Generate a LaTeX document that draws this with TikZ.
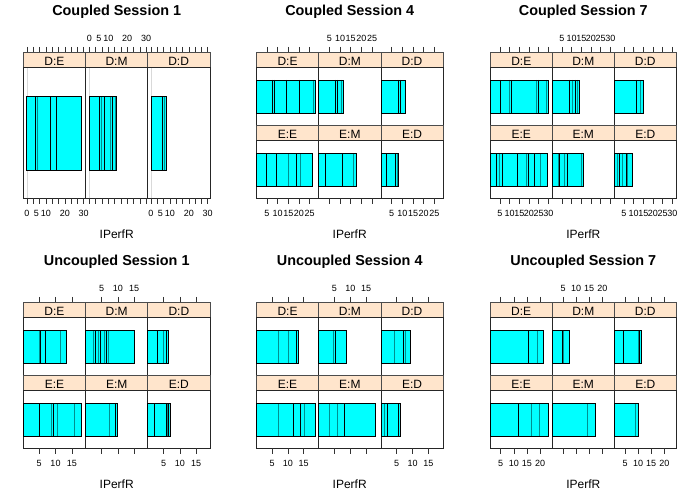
\documentclass[tikz,border=0pt]{standalone}
\usepackage{fontspec}
\setmainfont{Liberation Sans}
\definecolor{barc}{HTML}{00FFFF}
\definecolor{stripc}{HTML}{FFE5CC}
\definecolor{shadc}{HTML}{008F8F}
\tikzset{
  frm/.style={draw=black!85, line width=0.75pt},
  stripst/.style={fill=stripc, draw=black!70, line width=0.8pt},
  striplab/.style={font=\fontsize{12}{12}\selectfont, inner sep=0pt},
  ticklab/.style={font=\fontsize{9}{9}\selectfont, inner sep=0pt},
  ttl/.style={font=\bfseries\fontsize{14.4}{14.4}\selectfont, inner sep=0pt},
  axlab/.style={font=\fontsize{12}{12}\selectfont, inner sep=0pt},
  bk/.style={draw=black, line width=0.7pt},
  tl/.style={draw=shadc, line width=0.9pt},
  tk/.style={draw=black!80, line width=0.6pt},
  origin/.style={draw=black!15, line width=0.8pt},
}
% bar: x0, x1, y0, y1, inner lines
\newcommand{\mybar}[5]{%
  \fill[barc] (#1,#3) rectangle (#2,#4);
  \foreach \lx/\lc in {#5} {\draw[\lc] (\lx,#3) -- (\lx,#4);}
  \draw[bk] (#1,#3) rectangle (#2,#4);
}
% ticks: panel left, first offset, step, count
\newcommand{\myticks}[4]{%
  \foreach \k in {1,...,#4} {%
    \pgfmathsetmacro{\tx}{#1+#2+(\k-1)*#3}%
    \draw[tk] (\tx,46.8) -- (\tx,52.3);
    \draw[tk] (\tx,198.3) -- (\tx,203.8);
  }}
% labels: panel left, a, b, values, baseline y, name prefix
\newcommand{\mylabs}[6]{%
  \foreach \v [count=\k] in {#4} {%
    \pgfmathsetmacro{\tx}{#1+#2+#3*\v}%
    \node[ticklab, anchor=base] (#6\k) at (\tx,#5) {\v};
  }}
% one-row frame
\newcommand{\frameone}[5]{%
  \foreach \xa/\xb/\nm/\lb in {#1/#2/a/D:E,#2/#3/b/D:M,#3/#4/c/D:D} {%
    \filldraw[stripst] (\xa,52.3) rectangle (\xb,67.7);
    \node[striplab, anchor=base] (#5s\nm) at ({(\xa+\xb)/2},65.3) {\lb};
    \draw[frm] (\xa,67.7) rectangle (\xb,198.3);
  }}
% two-row frame
\newcommand{\frametwo}[5]{%
  \foreach \xa/\xb/\nm/\la/\lb in {#1/#2/a/D:E/E:E,#2/#3/b/D:M/E:M,#3/#4/c/D:D/E:D} {%
    \filldraw[stripst] (\xa,52.3) rectangle (\xb,67.7);
    \node[striplab, anchor=base] (#5s\nm) at ({(\xa+\xb)/2},65.3) {\la};
    \draw[frm] (\xa,67.7) rectangle (\xb,125.7);
    \filldraw[stripst] (\xa,125.7) rectangle (\xb,140.7);
    \node[striplab, anchor=base] (#5u\nm) at ({(\xa+\xb)/2},138.8) {\lb};
    \draw[frm] (\xa,140.7) rectangle (\xb,198.3);
  }}
\begin{document}
\begin{tikzpicture}[x=1pt,y=-1pt]
\useasboundingbox (0,0) rectangle (700,500);
\fill[white] (0,0) rectangle (700,500);

% ---------------- Coupled Session 1 ----------------
\node[ttl, anchor=base] (t1) at (116.7,15.3) {Coupled Session 1};
\frameone{23.3}{85.7}{147.3}{210}{p1}
\foreach \ox in {27,89.4,151} {\draw[origin] (\ox,68.3) -- (\ox,197.7);}
\myticks{23.3}{3.7}{6.3}{10}
\myticks{85.7}{3.7}{6.3}{10}
\myticks{147.3}{3.7}{6.3}{10}
\mylabs{23.3}{3.7}{1.89}{0,5,10,20,30}{216.7}{p1ba}
\mylabs{147.3}{3.7}{1.89}{0,5,10,20,30}{216.7}{p1bc}
\mylabs{85.7}{3.7}{1.89}{0,5,10,20,30}{41.7}{p1tb}
\mybar{26.7}{81.7}{96.7}{170}{35.7/bk,37.7/tl,50.7/bk,56.3/bk}
\mybar{89.3}{116.7}{96.7}{170}{99.3/bk,101.7/tl,104/bk,110/tl,112/bk,115/tl}
\mybar{151.3}{166.7}{96.7}{170}{162.3/bk,164/tl}
\node[axlab, anchor=base] (x1) at (116.7,238.3) {IPerfR};

% ---------------- Coupled Session 4 ----------------
\node[ttl, anchor=base] (t2) at (349.7,15.3) {Coupled Session 4};
\frametwo{256.3}{318.7}{381}{443}{p2}
\myticks{256.3}{10.67}{10.67}{5}
\myticks{318.7}{10.67}{10.67}{5}
\myticks{381}{10.67}{10.67}{5}
\mylabs{256.3}{0}{2.134}{5,10,15,20,25}{216.7}{p2ba}
\mylabs{381}{0}{2.134}{5,10,15,20,25}{216.7}{p2bc}
\mylabs{318.7}{0}{2.134}{5,10,15,20,25}{41.7}{p2tb}
\mybar{256.3}{315.3}{80}{113.3}{272/bk,274.3/bk,286.3/bk,299.7/bk,313/tl}
\mybar{318.7}{343.3}{80}{113.3}{335.7/bk,337.3/bk,341/tl}
\mybar{381}{405.3}{80}{113.3}{398.7/bk,400.3/bk}
\mybar{256.3}{312}{153.3}{186}{266.3/bk,276.5/bk,288.2/tl,296.8/bk,300.3/tl}
\mybar{318.7}{356.3}{153.3}{186}{325.3/bk,342/bk,353/tl}
\mybar{381}{398.7}{153.3}{186}{386.3/bk,395.3/bk,397.3/tl}
\node[axlab, anchor=base] (x2) at (349.7,238.3) {IPerfR};

% ---------------- Coupled Session 7 ----------------
\node[ttl, anchor=base] (t3) at (583.3,15.3) {Coupled Session 7};
\frametwo{490.3}{552.3}{614.3}{676.3}{p3}
\myticks{490.3}{9.67}{9.67}{6}
\myticks{552.3}{9.67}{9.67}{6}
\myticks{614.3}{9.67}{9.67}{6}
\mylabs{490.3}{0}{1.934}{5,10,15,20,25,30}{216.7}{p3ba}
\mylabs{614.3}{0}{1.934}{5,10,15,20,25,30}{216.7}{p3bc}
\mylabs{552.3}{0}{1.934}{5,10,15,20,25,30}{41.7}{p3tb}
\mybar{490.3}{548.3}{80}{113.3}{500.7/bk,509.3/tl,511.7/bk,536/tl,538.7/bk,546/tl}
\mybar{552.3}{579.3}{80}{113.3}{569.7/bk,572/tl,575/bk,577/tl}
\mybar{614.3}{643}{80}{113.3}{636.7/bk,640/tl}
\mybar{490.3}{547.3}{153.3}{186}{496.7/bk,499.3/tl,502/bk,517.7/bk,526/tl,528.3/bk,534.3/bk,540/tl}
\mybar{552.3}{583.3}{153.3}{186}{558.3/tl,559.3/bk,564.7/tl,567.3/bk,581.5/tl}
\mybar{614.3}{632.7}{153.3}{186}{617.7/tl,619.3/bk,622/tl,626.7/bk,627.7/tl}
\node[axlab, anchor=base] (x3) at (583.3,238.3) {IPerfR};

\begin{scope}[shift={(0,250)}]
% ---------------- Uncoupled Session 1 ----------------
\node[ttl, anchor=base] (t4) at (116.7,15.3) {Uncoupled Session 1};
\frametwo{23.3}{85.7}{147.7}{210}{p4}
\myticks{23.3}{15.9}{16.3}{3}
\myticks{85.7}{15.9}{16.3}{3}
\myticks{147.7}{15.9}{16.3}{3}
\mylabs{23.3}{-0.4}{3.26}{5,10,15}{216.7}{p4ba}
\mylabs{147.7}{-0.4}{3.26}{5,10,15}{216.7}{p4bc}
\mylabs{85.7}{-0.4}{3.26}{5,10,15}{41.7}{p4tb}
\mybar{23.3}{66.7}{80}{113.3}{39.3/tl,40.3/bk,45.7/bk,60/tl}
\mybar{85.7}{134}{80}{113.3}{93.3/tl,95/bk,98.3/tl,100.7/bk,104.3/tl,106.7/bk,108.7/tl}
\mybar{147.7}{168.7}{80}{113.3}{157.3/bk,163.3/tl,166.7/bk}
\mybar{23.3}{81.7}{153.3}{186}{39.3/bk,51.7/tl,53.3/bk,57.3/tl,74/tl}
\mybar{85.7}{117.3}{153.3}{186}{109.3/tl,115/bk}
\mybar{147.7}{170.3}{153.3}{186}{154.3/bk,166/bk,167.7/tl,168.7/bk}
\node[axlab, anchor=base] (x4) at (116.7,238.3) {IPerfR};

% ---------------- Uncoupled Session 4 ----------------
\node[ttl, anchor=base] (t5) at (349.7,15.3) {Uncoupled Session 4};
\frametwo{256.3}{318.7}{381}{443}{p5}
\myticks{256.3}{15.7}{15.85}{3}
\myticks{318.7}{15.7}{15.85}{3}
\myticks{381}{15.7}{15.85}{3}
\mylabs{256.3}{-0.15}{3.17}{5,10,15}{216.7}{p5ba}
\mylabs{381}{-0.15}{3.17}{5,10,15}{216.7}{p5bc}
\mylabs{318.7}{-0.15}{3.17}{5,10,15}{41.7}{p5tb}
\mybar{256.3}{298.3}{80}{113.3}{278/tl,288.7/tl,296.3/bk}
\mybar{318.7}{346.3}{80}{113.3}{333/tl,335.7/bk}
\mybar{381}{410.7}{80}{113.3}{394/tl,403.7/bk,405.7/tl}
\mybar{256.3}{315}{153.3}{186}{278/tl,293.3/bk,300.7/bk,304.7/tl}
\mybar{318.7}{375.3}{153.3}{186}{329.7/tl,337.7/tl,344.7/bk}
\mybar{381}{400.3}{153.3}{186}{384.7/tl,387/bk,398/bk}
\node[axlab, anchor=base] (x5) at (349.7,238.3) {IPerfR};

% ---------------- Uncoupled Session 7 ----------------
\node[ttl, anchor=base] (t6) at (583.3,15.3) {Uncoupled Session 7};
\frametwo{490}{552.3}{614.3}{676.3}{p6}
\myticks{490}{10.7}{13.1}{4}
\myticks{552.3}{10.7}{13.1}{4}
\myticks{614.3}{10.7}{13.1}{4}
\mylabs{490}{-2.4}{2.62}{5,10,15,20}{216.7}{p6ba}
\mylabs{614.3}{-2.4}{2.62}{5,10,15,20}{216.7}{p6bc}
\mylabs{552.3}{-2.4}{2.62}{5,10,15,20}{41.7}{p6tb}
\mybar{490}{543.7}{80}{113.3}{528.7/bk,537/tl}
\mybar{552.3}{569.7}{80}{113.3}{562.3/bk,563.7/tl}
\mybar{614.3}{641.7}{80}{113.3}{623.7/bk,638.3/tl,639.7/bk}
\mybar{490}{548.7}{153.3}{186}{518.7/bk,531.3/tl,539.3/tl}
\mybar{552.3}{595.3}{153.3}{186}{587/tl}
\mybar{614.3}{638.3}{153.3}{186}{635.3/tl}
\node[axlab, anchor=base] (x6) at (583.3,238.3) {IPerfR};
\end{scope}
\end{tikzpicture}
\end{document}
